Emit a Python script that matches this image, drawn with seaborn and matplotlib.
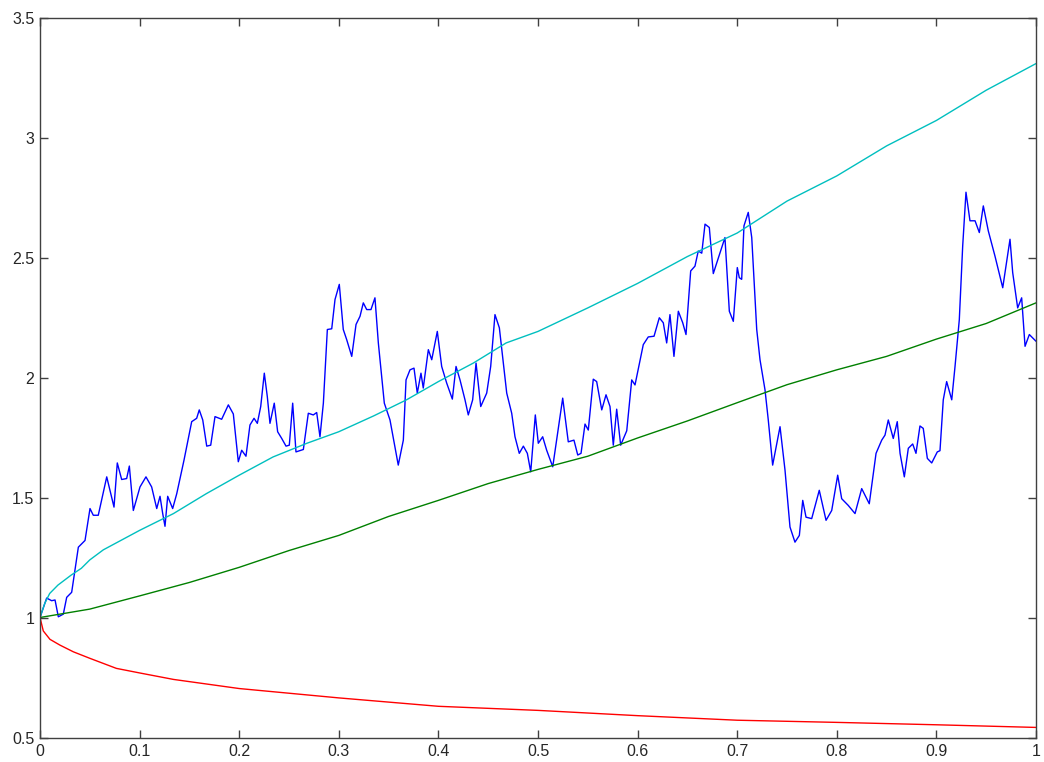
import matplotlib
matplotlib.use("Agg")
import matplotlib.pyplot as plt
import seaborn as sns
import pandas as pd
from matplotlib.ticker import FormatStrFormatter, FuncFormatter

# Simulated asset path (blue)
path_t = [0.0, 0.0067, 0.0117, 0.0151, 0.0184, 0.0234, 0.0268, 0.0318, 0.0385, 0.0452,
          0.0502, 0.0535, 0.0585, 0.0670, 0.0743, 0.0776, 0.0820, 0.0870, 0.0897, 0.0937,
          0.1004, 0.1064, 0.1121, 0.1172, 0.1205, 0.1232, 0.1255, 0.1282, 0.1332, 0.1373,
          0.1446, 0.1523, 0.1573, 0.1599, 0.1634, 0.1674, 0.1714, 0.1757, 0.1824, 0.1891,
          0.1941, 0.1991, 0.2025, 0.2068, 0.2108, 0.2149, 0.2182, 0.2216, 0.2252, 0.2282,
          0.2309, 0.2352, 0.2386, 0.2427, 0.2470, 0.2503, 0.2537, 0.2570, 0.2644, 0.2694,
          0.2744, 0.2778, 0.2811, 0.2845, 0.2885, 0.2929, 0.2962, 0.3005, 0.3045, 0.3079,
          0.3130, 0.3173, 0.3213, 0.3246, 0.3280, 0.3323, 0.3363, 0.3397, 0.3457, 0.3514,
          0.3564, 0.3597, 0.3648, 0.3675, 0.3715, 0.3755, 0.3788, 0.3825, 0.3848, 0.3899,
          0.3933, 0.3989, 0.4033, 0.4083, 0.4140, 0.4177, 0.4217, 0.4267, 0.4300, 0.4344,
          0.4378, 0.4425, 0.4485, 0.4525, 0.4568, 0.4612, 0.4652, 0.4686, 0.4736, 0.4769,
          0.4812, 0.4853, 0.4893, 0.4927, 0.4973, 0.5003, 0.5047, 0.5087, 0.5148, 0.5248,
          0.5304, 0.5361, 0.5399, 0.5432, 0.5472, 0.5505, 0.5555, 0.5589, 0.5640, 0.5683,
          0.5723, 0.5756, 0.5790, 0.5830, 0.5891, 0.5941, 0.5974, 0.6057, 0.6107, 0.6165,
          0.6218, 0.6258, 0.6292, 0.6325, 0.6365, 0.6409, 0.6453, 0.6486, 0.6533, 0.6576,
          0.6609, 0.6644, 0.6677, 0.6720, 0.6760, 0.6877, 0.6921, 0.6961, 0.7001, 0.7021,
          0.7045, 0.7068, 0.7111, 0.7146, 0.7196, 0.7229, 0.7279, 0.7312, 0.7356, 0.7430,
          0.7480, 0.7530, 0.7580, 0.7624, 0.7658, 0.7691, 0.7748, 0.7824, 0.7892, 0.7949,
          0.8009, 0.8049, 0.8115, 0.8183, 0.8250, 0.8326, 0.8394, 0.8451, 0.8484, 0.8517,
          0.8567, 0.8607, 0.8635, 0.8678, 0.8718, 0.8762, 0.8795, 0.8835, 0.8868, 0.8909,
          0.8953, 0.9009, 0.9036, 0.9069, 0.9103, 0.9154, 0.9187, 0.9230, 0.9264, 0.9297,
          0.9337, 0.9388, 0.9431, 0.9471, 0.9521, 0.9588, 0.9666, 0.9739, 0.9766, 0.9816,
          0.9856, 0.9890, 0.9933, 1.0]
path_v = [1.000, 1.081, 1.070, 1.073, 1.003, 1.014, 1.084, 1.105, 1.293, 1.321,
          1.454, 1.426, 1.426, 1.586, 1.460, 1.644, 1.575, 1.579, 1.631, 1.446,
          1.544, 1.586, 1.544, 1.454, 1.505, 1.433, 1.380, 1.505, 1.454, 1.516,
          1.656, 1.816, 1.830, 1.865, 1.823, 1.714, 1.718, 1.837, 1.826, 1.886,
          1.848, 1.649, 1.697, 1.672, 1.802, 1.830, 1.809, 1.879, 2.018, 1.921,
          1.809, 1.893, 1.774, 1.746, 1.714, 1.718, 1.893, 1.690, 1.700, 1.851,
          1.844, 1.854, 1.753, 1.893, 2.200, 2.203, 2.325, 2.388, 2.200, 2.158,
          2.088, 2.221, 2.255, 2.311, 2.283, 2.283, 2.332, 2.144, 1.893, 1.823,
          1.711, 1.635, 1.739, 1.990, 2.032, 2.039, 1.935, 2.018, 1.956, 2.116,
          2.074, 2.192, 2.046, 1.977, 1.910, 2.046, 1.990, 1.907, 1.844, 1.907,
          2.060, 1.879, 1.935, 2.046, 2.262, 2.207, 2.060, 1.935, 1.851, 1.753,
          1.684, 1.714, 1.684, 1.607, 1.844, 1.726, 1.753, 1.697, 1.628, 1.914,
          1.732, 1.739, 1.677, 1.684, 1.806, 1.781, 1.993, 1.983, 1.865, 1.928,
          1.879, 1.718, 1.868, 1.718, 1.778, 1.990, 1.969, 2.137, 2.169, 2.172,
          2.249, 2.228, 2.144, 2.262, 2.088, 2.276, 2.228, 2.179, 2.444, 2.464,
          2.527, 2.518, 2.639, 2.625, 2.433, 2.583, 2.276, 2.234, 2.458, 2.416,
          2.409, 2.632, 2.688, 2.583, 2.200, 2.074, 1.949, 1.823, 1.635, 1.795,
          1.614, 1.377, 1.314, 1.342, 1.488, 1.418, 1.412, 1.530, 1.405, 1.446,
          1.593, 1.495, 1.467, 1.433, 1.537, 1.474, 1.684, 1.739, 1.760, 1.823,
          1.746, 1.816, 1.684, 1.586, 1.705, 1.723, 1.684, 1.798, 1.788, 1.663,
          1.644, 1.690, 1.695, 1.907, 1.983, 1.907, 2.046, 2.241, 2.548, 2.772,
          2.653, 2.653, 2.604, 2.715, 2.611, 2.506, 2.374, 2.576, 2.437, 2.290,
          2.332, 2.130, 2.179, 2.151]

# Mean curve (green)
mean_t = [0.0, 0.05, 0.1, 0.15, 0.2, 0.25, 0.3, 0.35, 0.4, 0.45, 0.5,
          0.55, 0.6, 0.65, 0.7, 0.75, 0.8, 0.85, 0.9, 0.95, 1.0]
mean_v = [1.000, 1.035, 1.090, 1.146, 1.209, 1.279, 1.342, 1.421, 1.488, 1.558, 1.617,
          1.672, 1.748, 1.819, 1.895, 1.970, 2.032, 2.088, 2.160, 2.225, 2.311]

# Lower band (red)
low_t = [0.0, 0.0033, 0.01, 0.02, 0.0335, 0.05, 0.0767, 0.1, 0.134, 0.2,
         0.3, 0.4, 0.5, 0.6, 0.7, 0.8, 0.9, 1.0]
low_v = [1.000, 0.944, 0.909, 0.885, 0.857, 0.830, 0.788, 0.769, 0.742, 0.704,
         0.665, 0.630, 0.613, 0.591, 0.572, 0.563, 0.553, 0.542]

# Upper band (cyan)
up_t = [0.0, 0.0047, 0.0097, 0.018, 0.0314, 0.0415, 0.05, 0.0636, 0.1, 0.134,
        0.167, 0.2, 0.234, 0.268, 0.3, 0.335, 0.368, 0.4, 0.435, 0.468, 0.5,
        0.55, 0.6, 0.65, 0.7, 0.75, 0.8, 0.85, 0.9, 0.95, 1.0]
up_v = [1.000, 1.058, 1.100, 1.135, 1.177, 1.205, 1.240, 1.282, 1.363, 1.433,
        1.516, 1.593, 1.669, 1.726, 1.774, 1.840, 1.907, 1.983, 2.060, 2.144, 2.192,
        2.290, 2.392, 2.504, 2.602, 2.735, 2.840, 2.965, 3.071, 3.197, 3.308]

x_ticks = [0, 0.1, 0.2, 0.3, 0.4, 0.5, 0.6, 0.7, 0.8, 0.9, 1.0]
y_ticks = [0.5, 1, 1.5, 2, 2.5, 3, 3.5]

sns.set_style("white")
plt.rcParams['font.family'] = ['Liberation Sans', 'DejaVu Sans']

fig = plt.figure(figsize=(10.44, 7.62), dpi=100)
ax = fig.add_axes([40 / 1044, 24.5 / 762, 996 / 1044, 720 / 762])

series = [
    (path_t, path_v, '#0000ff'),
    (mean_t, mean_v, '#008000'),
    (low_t, low_v, '#ff0000'),
    (up_t, up_v, '#00bfbf'),
]
for t, v, c in series:
    df = pd.DataFrame({'t': t, 'v': v})
    sns.lineplot(data=df, x='t', y='v', color=c, linewidth=1.0, ax=ax,
                 sort=False, estimator=None)

ax.set_xlim(0, 1)
ax.set_ylim(0.5, 3.5)
ax.set_xticks(x_ticks)
ax.set_yticks(y_ticks)
ax.xaxis.set_major_formatter(FuncFormatter(lambda v, p: f"{v:g}"))
ax.yaxis.set_major_formatter(FuncFormatter(lambda v, p: f"{v:g}"))
ax.set_xlabel('')
ax.set_ylabel('')

for sp in ax.spines.values():
    sp.set_visible(True)
    sp.set_color('#404040')
    sp.set_linewidth(1.0)

ax.tick_params(axis='both', direction='in', length=6, width=1.0, color='#404040',
               labelsize=11.5, labelcolor='#262626', top=True, right=True,
               bottom=True, left=True)
ax.tick_params(axis='x', pad=5)
ax.tick_params(axis='y', pad=4)

fig.savefig('out.png', dpi=100)
